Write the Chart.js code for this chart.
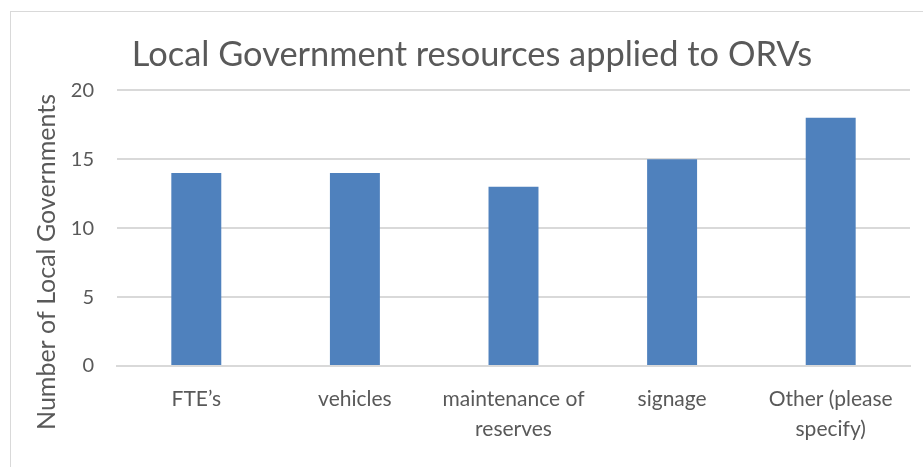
<!DOCTYPE html>
<html lang="en">
<head>
    <meta charset="UTF-8" />
    <title>Local Government resources applied to ORVs</title>
    <script src="https://cdn.jsdelivr.net/npm/chart.js"></script>
    <style>
        html, body { margin: 0; background: #fff; overflow: hidden; }
        .frame {
            position: absolute; left: 10px; top: 11px;
            width: 925px; height: 470px;
            border: 1px solid #d9d9d9; box-sizing: border-box;
        }
        canvas { display: block; }
    </style>
</head>
<body>
    <div class="frame"><canvas id="chart" width="922" height="456"></canvas></div>

    <script>
        const categories = [['FTE\u2019s'], ['vehicles'], ['maintenance of', 'reserves'], ['signage'], ['Other (please', 'specify)']];
        const counts = [14, 14, 13, 15, 18];
        const yTicks = [0, 5, 10, 15, 20];

        const grey = '#595959';
        const fontFace = 'Lato, "Open Sans", sans-serif';

        // vertical axis caption, drawn by hand so it can sit lower than the plot centre
        const yCaption = {
            id: 'yCaption',
            afterDraw(chart) {
                const ctx = chart.ctx;
                ctx.save();
                ctx.translate(chart.scales.y.left + 13, chart.chartArea.bottom - 104);
                ctx.rotate(-Math.PI / 2);
                ctx.fillStyle = grey;
                ctx.font = '25px ' + fontFace;
                ctx.textAlign = 'center';
                ctx.textBaseline = 'middle';
                ctx.fillText('Number of Local Governments', 0, 0);
                ctx.restore();
            }
        };

        new Chart(document.getElementById('chart'), {
            type: 'bar',
            data: {
                labels: categories,
                datasets: [{
                    data: counts,
                    backgroundColor: '#4f81bd',
                    categoryPercentage: 1,
                    barPercentage: 0.315
                }]
            },
            options: {
                responsive: false,
                animation: false,
                layout: { padding: { left: 23, right: 23, bottom: 0 } },
                plugins: {
                    legend: { display: false },
                    tooltip: { enabled: false },
                    title: {
                        display: true,
                        text: 'Local Government resources applied to ORVs',
                        color: grey,
                        font: { family: fontFace, size: 34.4, weight: 'normal', lineHeight: 1.2 },
                        padding: { top: 22, bottom: 15 }
                    }
                },
                scales: {
                    x: {
                        grid: { display: false, drawTicks: false },
                        border: { color: '#d9d9d9', width: 2 },
                        ticks: {
                            color: grey,
                            font: { family: fontFace, size: 21, lineHeight: 1.4 },
                            padding: 19,
                            maxRotation: 0,
                            autoSkip: false
                        },
                        afterFit: s => { s.height = 102; }
                    },
                    y: {
                        min: yTicks[0],
                        max: yTicks[yTicks.length - 1],
                        afterBuildTicks: s => { s.ticks = yTicks.map(v => ({ value: v })); },
                        grid: { color: '#d9d9d9', lineWidth: 2, drawTicks: false },
                        border: { display: false },
                        ticks: {
                            color: grey,
                            font: { family: fontFace, size: 20 },
                            padding: 23
                        },
                        afterFit: s => { s.width = 83; }
                    }
                }
            },
            plugins: [yCaption]
        });
    </script>
</body>
</html>
